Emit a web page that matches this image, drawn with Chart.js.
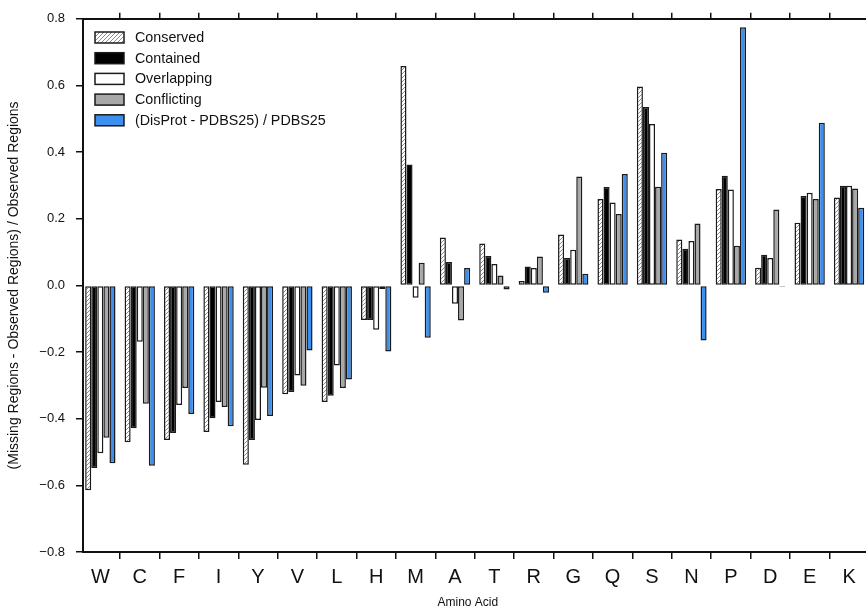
<!DOCTYPE html>
<html>
<head>
<meta charset="utf-8">
<script src="https://cdn.jsdelivr.net/npm/chart.js@4.4.1/dist/chart.umd.min.js"></script>
<style>
  html, body { margin: 0; padding: 0; background: #fff; overflow: hidden; }
  #wrap { width: 866px; height: 610px; }
</style>
</head>
<body>
<div id="wrap"><canvas id="myChart" width="866" height="610"></canvas></div>
<script>
// amino acids, in plotted order
const aminoAcids = ['W','C','F','I','Y','V','L','H','M','A','T','R','G','Q','S','N','P','D','E','K'];

// series values
const conserved   = [-0.615,-0.471,-0.464,-0.440,-0.538,-0.327,-0.350,-0.104,0.658,0.144,0.126,0.013,0.153,0.259,0.597,0.138,0.289,0.053,0.188,0.264];
const contained   = [-0.548,-0.429,-0.443,-0.399,-0.464,-0.320,-0.331,-0.104,0.363,0.070,0.088,0.057,0.082,0.295,0.535,0.110,0.329,0.092,0.268,0.299];
const overlapping = [-0.504,-0.169,-0.359,-0.350,-0.404,-0.270,-0.240,-0.133,-0.037,-0.055,0.064,0.052,0.107,0.249,0.484,0.133,0.288,0.082,0.278,0.299];
const conflicting = [-0.457,-0.355,-0.308,-0.365,-0.307,-0.301,-0.308,-0.011,0.068,-0.105,0.030,0.087,0.327,0.214,0.296,0.186,0.119,0.228,0.259,0.291];
const disprot     = [-0.534,-0.541,-0.386,-0.423,-0.392,-0.195,-0.282,-0.198,-0.157,0.052,-0.012,-0.022,0.035,0.334,0.398,-0.165,0.775,-0.004,0.488,0.233];

const yTicks = [-0.8,-0.6,-0.4,-0.2,0.0,0.2,0.4,0.6,0.8];

const FONT = "'Liberation Sans', Arial, Helvetica, sans-serif";
const EDGE = '#1a1a1a';

// diagonal hatch for "Conserved"
function hatch() {
  const c = document.createElement('canvas');
  c.width = 4; c.height = 4;
  const g = c.getContext('2d');
  g.fillStyle = '#fff';
  g.fillRect(0, 0, 4, 4);
  g.strokeStyle = '#8a8a8a';
  g.lineWidth = 1;
  g.beginPath();
  g.moveTo(0, 4); g.lineTo(4, 0);
  g.moveTo(-1, 1); g.lineTo(1, -1);
  g.moveTo(3, 5); g.lineTo(5, 3);
  g.stroke();
  return document.getElementById('myChart').getContext('2d').createPattern(c, 'repeat');
}

const pts = arr => arr.map((v, i) => ({ x: i, y: v }));

const series = [
  { label: 'Conserved', data: conserved, fill: hatch() },
  { label: 'Contained', data: contained, fill: '#000000' },
  { label: 'Overlapping', data: overlapping, fill: '#ffffff' },
  { label: 'Conflicting', data: conflicting, fill: '#a8a8a8' },
  { label: '(DisProt - PDBS25) / PDBS25', data: disprot, fill: '#3d8fef' }
];

// legend drawn inside the plot, top left
const boxLegend = {
  id: 'boxLegend',
  afterDraw(chart) {
    const ctx = chart.ctx;
    ctx.save();
    ctx.font = '14.3px ' + FONT;
    ctx.textBaseline = 'middle';
    chart.data.datasets.forEach((ds, i) => {
      const y = 32 + i * 20.7;
      ctx.fillStyle = ds.backgroundColor;
      ctx.fillRect(95, y, 29, 11);
      ctx.strokeStyle = EDGE;
      ctx.lineWidth = 1.5;
      ctx.strokeRect(95, y, 29, 11);
      ctx.fillStyle = '#111';
      ctx.fillText(ds.label, 135, y + 6);
    });
    ctx.restore();
  }
};

const catTicks = s => { s.ticks = aminoAcids.map((_, i) => ({ value: i })); };
const X_MIN = -0.44, X_MAX = 19.43;

new Chart(document.getElementById('myChart'), {
  type: 'bar',
  data: {
    datasets: series.map(s => ({
      label: s.label,
      data: pts(s.data),
      backgroundColor: s.fill,
      borderColor: EDGE,
      borderWidth: 1.5,
      borderSkipped: false,
      categoryPercentage: 0.77,
      barPercentage: 1.0
    }))
  },
  options: {
    responsive: false,
    animation: false,
    layout: { padding: 0 },
    plugins: {
      legend: { display: false },
      tooltip: { enabled: false }
    },
    scales: {
      x: {
        type: 'linear',
        position: 'bottom',
        min: X_MIN,
        max: X_MAX,
        offset: false,
        afterBuildTicks: catTicks,
        afterFit: s => { s.height = 58; },
        grid: { drawOnChartArea: false, tickLength: 7, color: '#111', lineWidth: 1.5 },
        border: { display: true, color: '#111', width: 2 },
        ticks: {
          autoSkip: false,
          maxRotation: 0,
          padding: 6,
          color: '#111',
          font: { family: FONT, size: 20 },
          callback: v => aminoAcids[v] ?? ''
        },
        title: {
          display: true,
          text: 'Amino Acid    ',
          color: '#111',
          font: { family: FONT, size: 12 },
          padding: { top: 0, bottom: 0 }
        }
      },
      x2: {
        type: 'linear',
        position: 'top',
        min: X_MIN,
        max: X_MAX,
        offset: false,
        afterBuildTicks: catTicks,
        afterFit: s => { s.height = 18; },
        grid: { drawOnChartArea: false, tickLength: 6, color: '#111', lineWidth: 1.5 },
        border: { display: true, color: '#111', width: 2 },
        ticks: { display: false }
      },
      y: {
        min: -0.8,
        max: 0.8,
        afterBuildTicks: s => { s.ticks = yTicks.map(v => ({ value: v })); },
        afterFit: s => { s.width = 83; },
        grid: { drawOnChartArea: false, tickLength: 7, color: '#111', lineWidth: 1.5 },
        border: { display: true, color: '#111', width: 2 },
        ticks: {
          padding: 11,
          color: '#111',
          font: { family: FONT, size: 13 },
          callback: v => (v < -1e-9 ? '\u2212' : '') + Math.abs(v).toFixed(1)
        },
        title: {
          display: true,
          text: '(Missing Regions - Observed Regions) / Observed Regions',
          color: '#111',
          font: { family: FONT, size: 14 },
          padding: { top: 6, bottom: 0 }
        }
      }
    }
  },
  plugins: [boxLegend]
});
</script>
</body>
</html>
